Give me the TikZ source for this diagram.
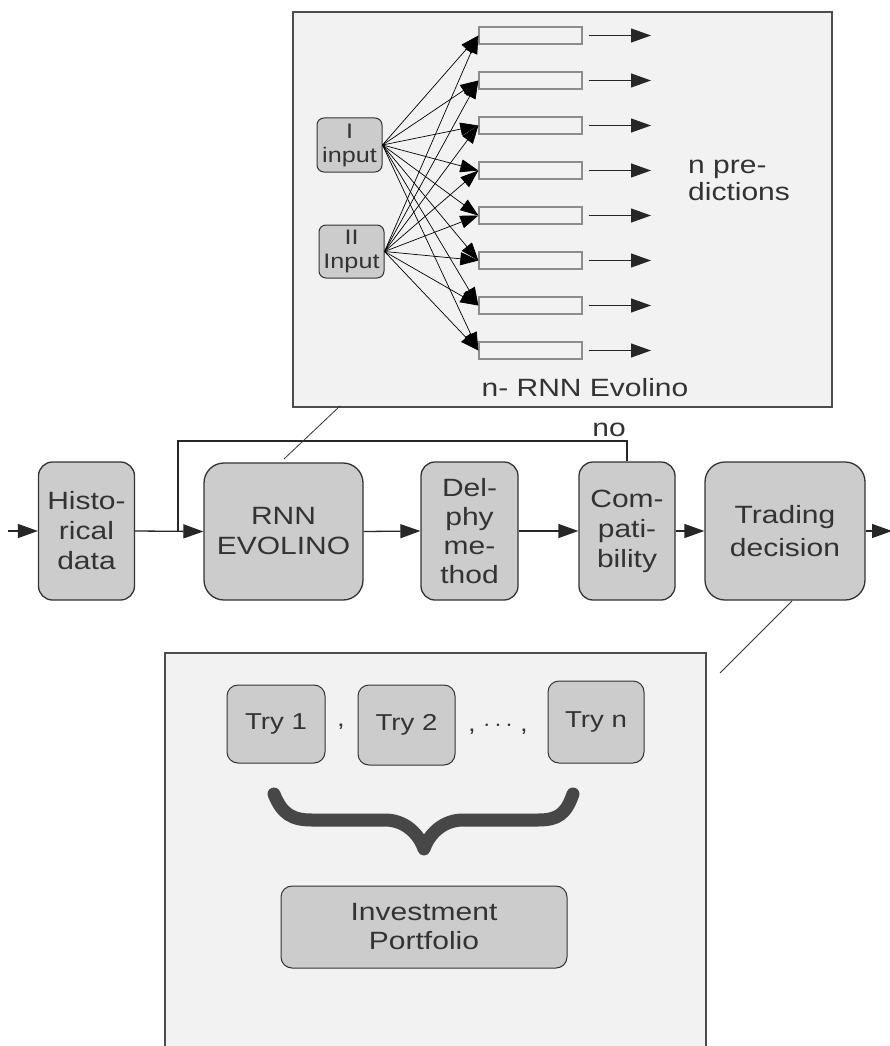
\documentclass[tikz,border=0pt]{standalone}
\usepackage{fontspec}
\setmainfont{Liberation Sans}[FakeStretch=1.2]
\usetikzlibrary{arrows.meta}
\definecolor{boxfill}{HTML}{CCCCCC}
\definecolor{panelfill}{HTML}{F2F2F2}
\definecolor{ink}{HTML}{333333}
\begin{document}
\begin{tikzpicture}[x=1pt,y=-1pt,
  every node/.style={text=ink},
  mainbox/.style={draw=ink, line width=1.3pt, fill=boxfill, rounded corners=14pt,
    align=center, inner sep=0pt, font=\fontsize{25}{30}\selectfont},
  panel/.style={draw=black!70, line width=1.2pt, fill=panelfill},
  cellbox/.style={draw=black!45, line width=1.3pt, fill=panelfill,
    minimum width=103pt, minimum height=17pt, inner sep=0pt},
  flow/.style={draw=black!85, line width=1.3pt, -{Triangle[length=20pt,width=14pt]}},
  outarr/.style={draw=black!85, line width=1pt, -{Triangle[length=20pt,width=14pt]}},
  fan/.style={draw=black, line width=0.7pt, -{Triangle[length=18pt,width=13pt]}},
  lbl/.style={font=\fontsize{25}{27}\selectfont, inner sep=0pt},
  leader/.style={draw=black!80, line width=0.8pt}
]
\clip (0,0) rectangle (890,1046);
\fill[white] (0,0) rectangle (890,1046);

% ---------- upper panel: n RNN Evolino networks ----------
\draw[panel] (293,12) rectangle (832,407);
\node[mainbox, rounded corners=7pt, minimum width=65pt, minimum height=54pt,
  line width=1pt, font=\fontsize{21}{24}\selectfont] (inI) at (349.5,145) {I\\input};
\node[mainbox, rounded corners=7pt, minimum width=65pt, minimum height=53pt,
  line width=1pt, font=\fontsize{21}{24}\selectfont] (inII) at (351.5,251.5) {II\\Input};
\foreach \k in {1,...,8} {
  \node[cellbox] (c\k) at (530.5,{35.5+45*(\k-1)}) {};
  \coordinate (o\k) at (651,{35.5+45*(\k-1)});
  \draw[outarr] ([xshift=6pt]c\k.east) -- (o\k);
}
\foreach \k in {1,...,8} {
  \draw[fan] (inI.east) -- (c\k.west);
  \draw[fan] (inII.east) -- (c\k.west);
}
\node[lbl, align=left, anchor=west] (pred) at (688,180) {n pre-\\dictions};
\node[lbl] (evo) at (585,388) {n- RNN Evolino};

% ---------- main processing chain ----------
\coordinate (src) at (8,531);
\node[mainbox, minimum width=96pt, minimum height=138pt] (hist) at (86.5,531) {Histo-\\rical\\data};
\node[mainbox, rounded corners=20pt, minimum width=159pt, minimum height=137pt] (rnn) at (283.5,531.5) {RNN\\EVOLINO};
\node[mainbox, minimum width=97pt, minimum height=138pt, font=\fontsize{25}{29}\selectfont] (del) at (469.5,531) {Del-\\phy\\me-\\thod};
\node[mainbox, minimum width=96pt, minimum height=138pt] (comp) at (627,531) {Com-\\pati-\\bility};
\node[mainbox, rounded corners=20pt, minimum width=160pt, minimum height=138pt, font=\fontsize{25}{33}\selectfont] (trade) at (785,531) {Trading\\decision};
\coordinate (sink) at (892,531);
\coordinate (join) at (178,531);

\draw[flow] (src) -- (hist.west);
\draw[flow] (hist.east) -- (rnn.west);
\draw[flow] (rnn.east) -- (del.west);
\draw[flow] (del.east) -- (comp.west);
\draw[flow] (comp.east) -- (trade.west);
\draw[flow] (trade.east) -- (sink);

% feedback when the predictions are not compatible
\coordinate (fbtop) at (627,441);
\draw[draw=black!85, line width=1.1pt] (comp.north) -- (fbtop) -| (join);
\node[lbl] (no) at (609,430) {no};

% ---------- lower panel: trading tries ----------
\draw[panel] (165,653) rectangle (706,1070);
\node[mainbox, rounded corners=11pt, minimum width=98pt, minimum height=78pt, line width=1pt,
  font=\fontsize{23}{27}\selectfont] (t1) at (276,724) {Try 1};
\node[mainbox, rounded corners=11pt, minimum width=97pt, minimum height=80pt, line width=1pt,
  font=\fontsize{23}{27}\selectfont] (t2) at (406.5,725) {Try 2};
\node[mainbox, rounded corners=11pt, minimum width=96pt, minimum height=82pt, line width=1pt,
  font=\fontsize{23}{27}\selectfont] (tn) at (596,722) {Try n};
\node[lbl, font=\fontsize{23}{27}\selectfont] (sep1) at (341,727) {,};
\node[lbl, font=\fontsize{23}{27}\selectfont] (sep2) at (498,727) {, $\cdots$ ,};
\draw[draw=black!72, line width=13pt, line cap=round, line join=round]
  (274,794) .. controls (282,814) and (292,820) .. (312,820)
  -- (385,820) .. controls (405,820) and (419,834) .. (424,849)
  .. controls (429,834) and (443,820) .. (463,820)
  -- (538,820) .. controls (558,820) and (566,814) .. (573,794);
\node[mainbox, rounded corners=11pt, minimum width=286pt, minimum height=82pt, line width=1pt,
  font=\fontsize{25}{29}\selectfont] (inv) at (424,927) {Investment\\Portfolio};

% ---------- leader lines to the detail panels ----------
\coordinate (topfoot) at (340,406);
\coordinate (rnnhead) at (284,459);
\draw[leader] (topfoot) -- (rnnhead);
\coordinate (tradefoot) at (792,601);
\coordinate (lowcorner) at (720,673);
\draw[leader] (tradefoot) -- (lowcorner);
\end{tikzpicture}
\end{document}
